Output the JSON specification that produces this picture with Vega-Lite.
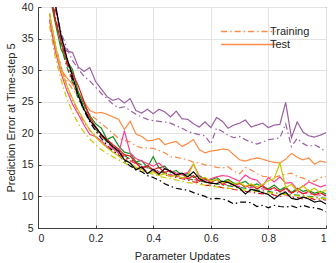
{
"$schema": "https://vega.github.io/schema/vega-lite/v6.json",
"width": 288, "height": 221,
"autosize": "none",
"padding": {"left": 38, "top": 7, "right": 10, "bottom": 35},
"config": {
  "font": "Liberation Sans",
  "view": {"stroke": "#404040", "strokeWidth": 1},
  "axis": {"gridColor": "#e3e3e3", "gridWidth": 1, "domainColor": "#404040", "tickColor": "#404040", "labelColor": "#262626", "titleColor": "#262626", "labelFontSize": 10.5, "titleFontSize": 11, "titleFontWeight": "normal", "labelFont": "Liberation Sans", "titleFont": "Liberation Sans", "tickSize": -3, "labelPadding": 8}
},
"datasets": {
"train": [
{"x":0.04,"purple":46,"orange":38,"green":43,"red":44,"pink":39,"yellow":37,"black":46},
{"x":0.06,"purple":40,"orange":33.5,"green":37.8,"red":38.5,"pink":34,"yellow":32,"black":40},
{"x":0.08,"purple":36,"orange":30.5,"green":33.8,"red":34.5,"pink":30.5,"yellow":28.5,"black":35.5},
{"x":0.10,"purple":33.5,"orange":28.3,"green":30.5,"red":31.0,"pink":27.5,"yellow":25.5,"black":31.8},
{"x":0.12,"purple":31.5,"orange":27,"green":28.0,"red":28.3,"pink":25.3,"yellow":23.3,"black":28.5},
{"x":0.14,"purple":30.2,"orange":25.8,"green":25.5,"red":26.0,"pink":23.4,"yellow":21.5,"black":25.8},
{"x":0.16,"purple":29.0,"orange":24.3,"green":23.6,"red":24.0,"pink":21.8,"yellow":20.2,"black":23.6},
{"x":0.18,"purple":28.3,"orange":23,"green":22.0,"red":22.3,"pink":20.5,"yellow":19.1,"black":21.8},
{"x":0.20,"purple":27.3,"orange":22.3,"green":20.6,"red":20.8,"pink":19.5,"yellow":18.2,"black":20.4},
{"x":0.22,"purple":26.3,"orange":21.5,"green":19.6,"red":19.6,"pink":18.6,"yellow":17.4,"black":19.2},
{"x":0.24,"purple":25.5,"orange":20.8,"green":18.6,"red":18.6,"pink":17.8,"yellow":16.8,"black":18.1},
{"x":0.26,"purple":24.6,"orange":20.0,"green":17.8,"red":17.7,"pink":17.2,"yellow":16.3,"black":17.2},
{"x":0.28,"purple":24.0,"orange":19.2,"green":17.0,"red":17.0,"pink":16.6,"yellow":15.8,"black":16.5},
{"x":0.30,"purple":24.2,"orange":18.9,"green":16.5,"red":16.3,"pink":16.1,"yellow":15.3,"black":15.6},
{"x":0.32,"purple":23.6,"orange":18.6,"green":15.9,"red":15.7,"pink":15.6,"yellow":14.9,"black":14.8},
{"x":0.34,"purple":23.0,"orange":18.0,"green":15.4,"red":15.2,"pink":15.2,"yellow":14.5,"black":14.3},
{"x":0.36,"purple":22.6,"orange":17.7,"green":15.0,"red":14.7,"pink":14.8,"yellow":14.1,"black":13.9},
{"x":0.38,"purple":22.2,"orange":17.7,"green":14.6,"red":13.8,"pink":14.5,"yellow":13.8,"black":13.3},
{"x":0.40,"purple":22.0,"orange":17.6,"green":14.2,"red":14.0,"pink":14.2,"yellow":13.5,"black":13.0},
{"x":0.42,"purple":21.9,"orange":17.3,"green":14.0,"red":13.7,"pink":13.9,"yellow":13.2,"black":12.6},
{"x":0.44,"purple":21.8,"orange":16.9,"green":13.7,"red":13.4,"pink":13.6,"yellow":13.0,"black":12.0},
{"x":0.46,"purple":21.6,"orange":16.3,"green":13.5,"red":13.2,"pink":13.4,"yellow":12.8,"black":11.6},
{"x":0.48,"purple":21.2,"orange":16.2,"green":13.2,"red":13.0,"pink":13.2,"yellow":12.6,"black":11.3},
{"x":0.50,"purple":20.8,"orange":16.0,"green":13.0,"red":12.8,"pink":13.0,"yellow":12.4,"black":11.1},
{"x":0.52,"purple":20.3,"orange":15.8,"green":12.8,"red":12.6,"pink":12.8,"yellow":12.2,"black":11.0},
{"x":0.54,"purple":20.0,"orange":15.4,"green":12.6,"red":12.3,"pink":12.7,"yellow":12.1,"black":10.6},
{"x":0.56,"purple":19.8,"orange":15.3,"green":12.4,"red":12.2,"pink":12.5,"yellow":11.9,"black":10.3},
{"x":0.58,"purple":19.6,"orange":15.0,"green":12.3,"red":11.7,"pink":12.4,"yellow":11.8,"black":10.0},
{"x":0.60,"purple":18.3,"orange":14.9,"green":12.1,"red":11.8,"pink":12.2,"yellow":11.6,"black":9.6},
{"x":0.62,"purple":20.8,"orange":14.6,"green":12.0,"red":11.6,"pink":12.1,"yellow":11.5,"black":9.7},
{"x":0.64,"purple":20.3,"orange":14.5,"green":11.8,"red":11.4,"pink":12.0,"yellow":11.4,"black":9.6},
{"x":0.66,"purple":19.7,"orange":14.7,"green":11.7,"red":11.3,"pink":11.8,"yellow":11.3,"black":9.3},
{"x":0.68,"purple":19.3,"orange":14.0,"green":11.5,"red":11.1,"pink":11.7,"yellow":11.2,"black":8.8},
{"x":0.70,"purple":19.5,"orange":13.6,"green":11.4,"red":11.0,"pink":11.6,"yellow":11.1,"black":9.1},
{"x":0.72,"purple":19.0,"orange":14.6,"green":11.3,"red":10.8,"pink":11.5,"yellow":11.0,"black":9.1},
{"x":0.74,"purple":18.6,"orange":14.2,"green":11.1,"red":10.7,"pink":11.4,"yellow":10.9,"black":9.0},
{"x":0.76,"purple":18.3,"orange":13.6,"green":11.0,"red":10.5,"pink":11.3,"yellow":10.8,"black":8.4},
{"x":0.78,"purple":18.6,"orange":13.2,"green":10.9,"red":10.4,"pink":11.2,"yellow":10.7,"black":8.6},
{"x":0.80,"purple":19.0,"orange":13.1,"green":10.8,"red":10.6,"pink":11.1,"yellow":10.6,"black":8.2},
{"x":0.82,"purple":19.1,"orange":13.0,"green":10.6,"red":10.2,"pink":11.0,"yellow":10.5,"black":8.6},
{"x":0.84,"purple":19.3,"orange":13.3,"green":10.5,"red":10.0,"pink":10.9,"yellow":10.4,"black":8.4},
{"x":0.86,"purple":21.5,"orange":13.5,"green":10.4,"red":10.3,"pink":10.8,"yellow":10.3,"black":8.3},
{"x":0.88,"purple":17.9,"orange":13.7,"green":10.3,"red":9.9,"pink":10.7,"yellow":10.2,"black":8.5},
{"x":0.90,"purple":19.2,"orange":13.2,"green":10.2,"red":9.8,"pink":10.6,"yellow":10.1,"black":8.2},
{"x":0.92,"purple":18.4,"orange":12.9,"green":10.1,"red":9.6,"pink":10.5,"yellow":10.0,"black":8.6},
{"x":0.94,"purple":17.9,"orange":12.5,"green":10.0,"red":9.9,"pink":10.4,"yellow":9.9,"black":8.3},
{"x":0.96,"purple":18.2,"orange":12.4,"green":9.9,"red":9.5,"pink":10.3,"yellow":9.8,"black":8.2},
{"x":0.98,"purple":17.7,"orange":13.0,"green":9.8,"red":9.6,"pink":10.2,"yellow":9.7,"black":8.0},
{"x":1.00,"purple":17.0,"orange":13.1,"green":9.7,"red":9.4,"pink":10.1,"yellow":9.6,"black":7.6}
],
"test": [
{"x":0.04,"purple":48,"orange":39,"green":42,"red":43,"pink":38,"yellow":39,"black":47},
{"x":0.06,"purple":40.5,"orange":34,"green":37.5,"red":38,"pink":33,"yellow":34,"black":40.5},
{"x":0.08,"purple":35,"orange":30,"green":33.3,"red":34.5,"pink":29.5,"yellow":30,"black":35.5},
{"x":0.10,"purple":33,"orange":28.8,"green":31.5,"red":31.5,"pink":26.8,"yellow":27.5,"black":32.0},
{"x":0.12,"purple":32.8,"orange":27.8,"green":30.1,"red":29.5,"pink":24.6,"yellow":25.5,"black":29.0},
{"x":0.14,"purple":30.5,"orange":26.5,"green":26.5,"red":27.5,"pink":23.0,"yellow":23.6,"black":26.0},
{"x":0.16,"purple":29.8,"orange":25,"green":24.5,"red":25.0,"pink":21.3,"yellow":22.0,"black":23.8},
{"x":0.18,"purple":30.4,"orange":23.6,"green":22.8,"red":22.5,"pink":19.8,"yellow":20.5,"black":22.0},
{"x":0.20,"purple":28.2,"orange":23.2,"green":21.5,"red":21.0,"pink":19.5,"yellow":19.4,"black":21.0},
{"x":0.22,"purple":27,"orange":23.3,"green":20.8,"red":19.8,"pink":18.8,"yellow":18.5,"black":19.8},
{"x":0.24,"purple":25.8,"orange":23.0,"green":19.0,"red":19.0,"pink":17.9,"yellow":17.7,"black":18.8},
{"x":0.26,"purple":25.2,"orange":22.6,"green":19.5,"red":18.2,"pink":17.6,"yellow":17.0,"black":17.9},
{"x":0.28,"purple":25.5,"orange":22.2,"green":18.0,"red":17.5,"pink":16.8,"yellow":16.4,"black":17.2},
{"x":0.30,"purple":24.8,"orange":20.6,"green":17.0,"red":16.6,"pink":20.4,"yellow":15.8,"black":15.8},
{"x":0.32,"purple":25.5,"orange":21.9,"green":16.8,"red":16.4,"pink":16.9,"yellow":15.3,"black":15.3},
{"x":0.34,"purple":23.6,"orange":19.9,"green":15.5,"red":15.3,"pink":16.0,"yellow":14.6,"black":14.2},
{"x":0.36,"purple":23.2,"orange":19.5,"green":15.7,"red":14.4,"pink":15.6,"yellow":14.3,"black":14.7},
{"x":0.38,"purple":23.8,"orange":18.8,"green":14.6,"red":14.9,"pink":15.2,"yellow":13.7,"black":13.6},
{"x":0.40,"purple":23.1,"orange":18.9,"green":16.3,"red":14.2,"pink":14.8,"yellow":13.9,"black":14.3},
{"x":0.42,"purple":23.8,"orange":19.2,"green":14.5,"red":14.6,"pink":15.3,"yellow":13.3,"black":13.5},
{"x":0.44,"purple":23.4,"orange":18.2,"green":14.8,"red":13.8,"pink":14.4,"yellow":13.6,"black":14.4},
{"x":0.46,"purple":22.6,"orange":18.5,"green":13.8,"red":14.1,"pink":14.0,"yellow":13.1,"black":14.0},
{"x":0.48,"purple":23.5,"orange":18.7,"green":14.1,"red":13.2,"pink":13.7,"yellow":13.4,"black":13.4},
{"x":0.50,"purple":22.3,"orange":17.9,"green":13.4,"red":13.6,"pink":13.5,"yellow":12.9,"black":13.7},
{"x":0.52,"purple":22.2,"orange":18.4,"green":13.6,"red":12.8,"pink":13.8,"yellow":13.2,"black":13.1},
{"x":0.54,"purple":21.5,"orange":19.0,"green":13.0,"red":13.3,"pink":15.1,"yellow":15.2,"black":13.9},
{"x":0.56,"purple":21.0,"orange":17.4,"green":13.3,"red":12.4,"pink":13.2,"yellow":12.8,"black":12.8},
{"x":0.58,"purple":21.8,"orange":16.9,"green":12.7,"red":12.9,"pink":12.4,"yellow":13.0,"black":12.3},
{"x":0.60,"purple":20.9,"orange":17.2,"green":12.6,"red":12.2,"pink":12.8,"yellow":12.4,"black":12.1},
{"x":0.62,"purple":22.5,"orange":17.3,"green":13.0,"red":12.7,"pink":13.1,"yellow":12.7,"black":12.0},
{"x":0.64,"purple":21.9,"orange":17.5,"green":12.3,"red":11.9,"pink":13.3,"yellow":12.1,"black":12.4},
{"x":0.66,"purple":20.8,"orange":17.4,"green":12.7,"red":12.4,"pink":13.2,"yellow":12.5,"black":12.2},
{"x":0.68,"purple":21.3,"orange":16.6,"green":12.1,"red":11.7,"pink":12.8,"yellow":11.9,"black":11.8},
{"x":0.70,"purple":21.6,"orange":15.8,"green":12.0,"red":12.1,"pink":12.4,"yellow":12.2,"black":11.3},
{"x":0.72,"purple":22.1,"orange":15.6,"green":12.4,"red":11.5,"pink":13.4,"yellow":11.6,"black":10.4},
{"x":0.74,"purple":21.0,"orange":15.9,"green":11.6,"red":11.9,"pink":12.8,"yellow":12.0,"black":11.1},
{"x":0.76,"purple":21.3,"orange":16.1,"green":12.0,"red":11.2,"pink":12.6,"yellow":11.5,"black":10.9},
{"x":0.78,"purple":21.6,"orange":15.9,"green":11.5,"red":11.7,"pink":11.6,"yellow":11.9,"black":10.6},
{"x":0.80,"purple":20.9,"orange":15.6,"green":11.2,"red":11.0,"pink":13.0,"yellow":12.5,"black":10.3},
{"x":0.82,"purple":21.3,"orange":15.4,"green":11.8,"red":11.4,"pink":12.3,"yellow":12.8,"black":9.6},
{"x":0.84,"purple":21.4,"orange":15.3,"green":11.0,"red":10.7,"pink":13.1,"yellow":15.3,"black":10.3},
{"x":0.86,"purple":24.9,"orange":15.9,"green":11.5,"red":11.3,"pink":12.1,"yellow":11.4,"black":10.7},
{"x":0.88,"purple":19.3,"orange":16.8,"green":10.6,"red":10.5,"pink":12.2,"yellow":11.9,"black":9.7},
{"x":0.90,"purple":21.8,"orange":16.2,"green":11.3,"red":11.0,"pink":11.1,"yellow":10.9,"black":9.5},
{"x":0.92,"purple":20.2,"orange":15.8,"green":10.8,"red":10.4,"pink":11.6,"yellow":11.7,"black":9.9},
{"x":0.94,"purple":19.6,"orange":16.1,"green":11.0,"red":10.8,"pink":12.3,"yellow":10.8,"black":9.6},
{"x":0.96,"purple":19.4,"orange":15.1,"green":10.5,"red":10.2,"pink":11.9,"yellow":11.3,"black":9.1},
{"x":0.98,"purple":19.7,"orange":15.6,"green":10.8,"red":10.6,"pink":11.5,"yellow":10.6,"black":9.3},
{"x":1.00,"purple":20.1,"orange":15.4,"green":10.4,"red":10.1,"pink":11.8,"yellow":11.0,"black":8.8}
]
},
"encoding": {
  "x": {"field": "x", "type": "quantitative", "scale": {"domain": [0, 1], "nice": false}, "axis": {"title": "Parameter Updates", "values": [0, 0.2, 0.4, 0.6, 0.8, 1], "format": "~g", "titlePadding": 7}},
  "y": {"field": "y", "type": "quantitative", "scale": {"domain": [5, 40], "nice": false, "zero": false}, "axis": {"title": "Prediction Error at Time-step 5", "values": [5, 10, 15, 20, 25, 30, 35, 40], "titlePadding": 5}},
  "color": {"field": "c", "type": "nominal", "scale": {"domain": ["purple", "orange", "green", "red", "pink", "yellow", "black"], "range": ["#9a5fa2", "#ff8a45", "#12921a", "#e3141c", "#ff3f8e", "#c8c800", "#000000"]}, "legend": null}
},
"layer": [
  {"data": {"name": "train"},
   "transform": [{"fold": ["purple", "orange", "green", "red", "pink", "yellow", "black"], "as": ["c", "y"]}],
   "mark": {"type": "line", "clip": true, "strokeWidth": 1.2},
   "encoding": {"strokeDash": {"datum": "Training", "type": "nominal", "scale": {"domain": ["Training", "Test"], "range": [[6, 3, 1.5, 3], [1, 0]]},
     "legend": {"title": null, "orient": "none", "legendX": 182, "legendY": 18, "symbolType": "stroke", "symbolStrokeColor": "#ff8a45", "symbolStrokeWidth": 1.5, "symbolSize": 3000, "clipHeight": 13, "rowPadding": 0, "labelFontSize": 11, "labelColor": "#262626", "labelOffset": -7}}}},
  {"data": {"name": "test"},
   "transform": [{"fold": ["purple", "orange", "green", "red", "pink", "yellow", "black"], "as": ["c", "y"]}],
   "mark": {"type": "line", "clip": true, "strokeWidth": 1.2},
   "encoding": {"strokeDash": {"datum": "Test", "type": "nominal"}}}
]
}
